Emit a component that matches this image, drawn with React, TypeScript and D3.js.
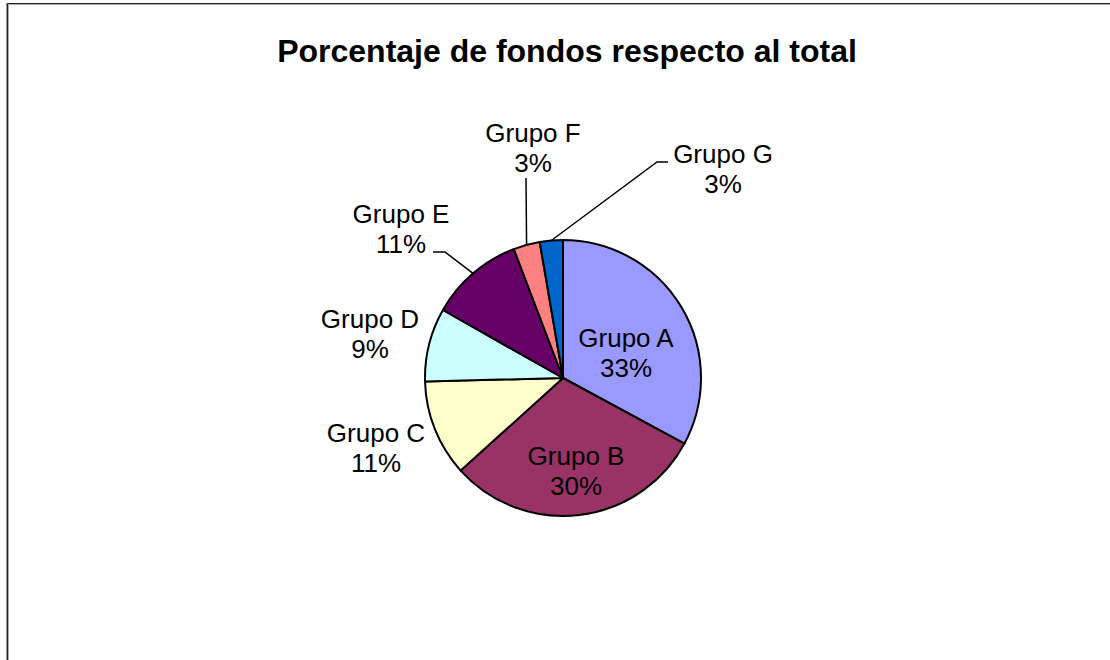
import React, { useEffect, useRef } from "react";
import * as d3 from "d3";

// Datos del gráfico (porcentaje de fondos por grupo)
const grupos = ["Grupo A", "Grupo B", "Grupo C", "Grupo D", "Grupo E", "Grupo F", "Grupo G"];
const fondos = [32.9, 30.4, 11.3, 8.6, 11.0, 3.1, 2.7];
const colores = ["#9999FF", "#993366", "#FFFFCC", "#CCFFFF", "#660066", "#FF8080", "#0066CC"];

const titulo = "Porcentaje de fondos respecto al total";

// Posición de etiquetas (centro x, línea base de la primera línea) y codo de la guía
const etiquetas: { x: number; y: number; guia?: [number, number][] }[] = [
  { x: 626, y: 347 },
  { x: 576, y: 465 },
  { x: 376, y: 442 },
  { x: 370, y: 328 },
  { x: 401, y: 223, guia: [[433, 252], [445, 252]] },
  { x: 533, y: 142, guia: [[526, 178]] },
  { x: 723, y: 163, guia: [[668, 162], [657, 162]] },
];

const App = () => {
  const svgRef = useRef<SVGSVGElement>(null);

  useEffect(() => {
    const width = 1110;
    const height = 660;
    const cx = 563;
    const cy = 378;
    const radius = 138;

    const svg = d3.select(svgRef.current);
    svg.selectAll("*").remove();
    svg.attr("width", width).attr("height", height);

    svg.append("rect").attr("width", width).attr("height", height).attr("fill", "#fff");

    // Marco del área del gráfico
    const marco = svg.append("g").attr("fill", "none");
    marco.append("path").attr("d", `M7.5,${height} V3.5 H${width}`).attr("stroke", "#222").attr("stroke-width", 1);
    marco.append("path").attr("d", `M8.5,${height} V4.5 H${width}`).attr("stroke", "#aaa").attr("stroke-width", 1);
    marco.append("path").attr("d", `M6.5,${height} V3`).attr("stroke", "#999").attr("stroke-width", 1);

    svg
      .append("text")
      .attr("x", 567)
      .attr("y", 62)
      .attr("text-anchor", "middle")
      .attr("font-family", "'Liberation Sans', Arial, sans-serif")
      .attr("font-weight", "bold")
      .attr("font-size", 32)
      .text(titulo);

    const total = d3.sum(fondos);
    const datos = grupos.map((g, i) => ({ nombre: g, valor: fondos[i], color: colores[i], i }));

    const pie = d3
      .pie<any>()
      .sort(null)
      .value((d) => d.valor)
      .startAngle(0)
      .endAngle(2 * Math.PI);
    const arcs = pie(datos);

    const arc = d3.arc<any>().innerRadius(0).outerRadius(radius);
    const borde = d3.arc<any>().innerRadius(radius).outerRadius(radius);

    const g = svg.append("g").attr("transform", `translate(${cx},${cy})`);

    g.selectAll("path")
      .data(arcs)
      .join("path")
      .attr("d", arc)
      .attr("fill", (d) => d.data.color)
      .attr("stroke", "#000")
      .attr("stroke-width", 2)
      .attr("stroke-linejoin", "round");

    // Líneas guía
    const linea = d3.line();
    arcs.forEach((a, i) => {
      const lab = etiquetas[i];
      if (!lab.guia) return;
      const [px, py] = borde.centroid(a);
      const pts: [number, number][] = [...lab.guia, [px + cx, py + cy]];
      svg
        .append("path")
        .attr("d", linea(pts))
        .attr("fill", "none")
        .attr("stroke", "#000")
        .attr("stroke-width", 1.5);
    });

    // Etiquetas
    const fmt = (v: number) => `${Math.round((v / total) * 100)}%`;
    const textos = svg
      .append("g")
      .attr("font-family", "'Liberation Sans', Arial, sans-serif")
      .attr("font-size", 26)
      .attr("text-anchor", "middle")
      .attr("fill", "#000");

    datos.forEach((d, i) => {
      const lab = etiquetas[i];
      const t = textos.append("text");
      t.append("tspan").attr("x", lab.x).attr("y", lab.y).text(d.nombre);
      t.append("tspan").attr("x", lab.x).attr("y", lab.y + 30).text(fmt(d.valor));
    });
  }, []);

  return (
    <div style={{ position: "absolute", left: 0, top: 0, width: 1110, height: 660, overflow: "hidden" }}>
      <svg ref={svgRef} style={{ display: "block" }} />
    </div>
  );
};

export default App;
